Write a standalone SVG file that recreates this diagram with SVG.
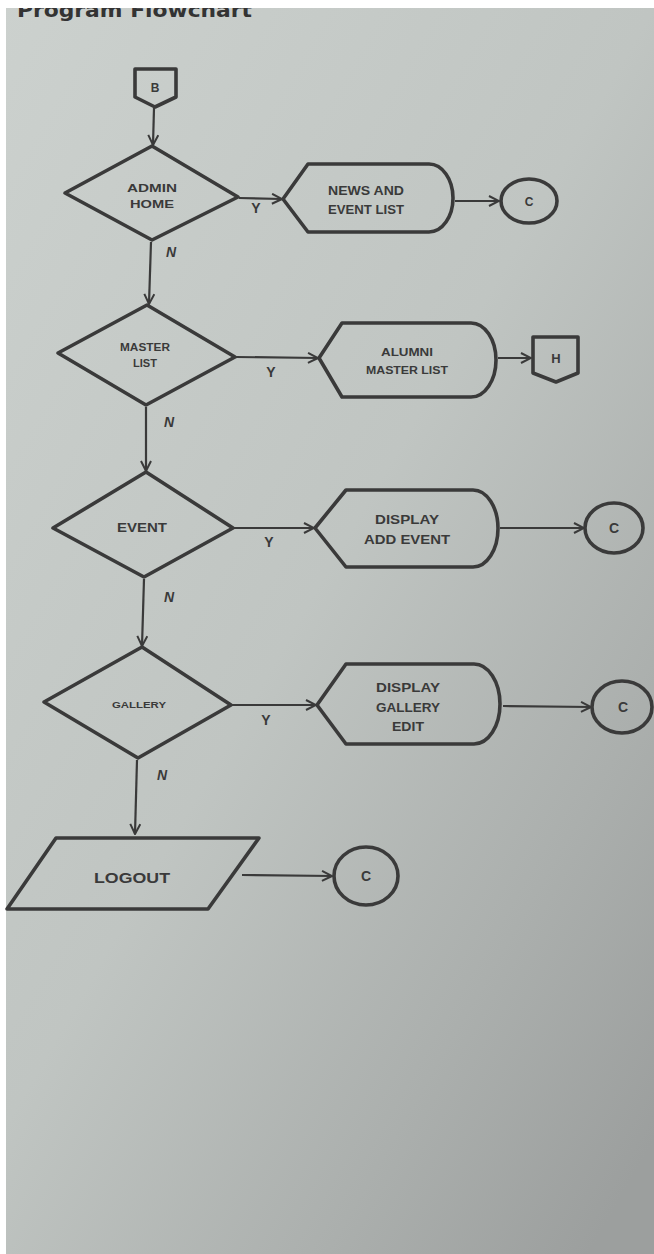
<svg xmlns="http://www.w3.org/2000/svg" width="654" height="1254" viewBox="0 0 654 1254">
<defs>
<linearGradient id="bg" x1="0" y1="0" x2="0.9" y2="1">
<stop offset="0" stop-color="#ccd1ce"/>
<stop offset="0.5" stop-color="#c0c5c2"/>
<stop offset="0.8" stop-color="#abafad"/>
<stop offset="1" stop-color="#9c9f9e"/>
</linearGradient>
<marker id="arr" viewBox="0 0 12 12" refX="11" refY="6" markerWidth="12" markerHeight="12" markerUnits="userSpaceOnUse" orient="auto">
<path d="M1,1 L11,6 L1,11" fill="none" stroke="#3a3a3a" stroke-width="2"/>
</marker>
</defs>
<style>
.sh{fill:none;stroke:#3a3a3a;stroke-width:3.6;stroke-linejoin:round}
.cn{fill:none;stroke:#3a3a3a;stroke-width:2.2;marker-end:url(#arr)}
.t{font-family:"Liberation Sans",Arial,sans-serif;font-weight:bold;fill:#3a3a3a;text-anchor:middle}
.yn{font-family:"Liberation Sans",Arial,sans-serif;font-weight:bold;fill:#3a3a3a;text-anchor:middle;font-size:14px}
</style>
<rect x="0" y="0" width="654" height="1254" fill="url(#bg)"/>
<text x="17" y="17" font-family="'DejaVu Sans',sans-serif" font-weight="bold" font-size="20" fill="#333" textLength="235" lengthAdjust="spacingAndGlyphs">Program Flowchart</text>
<rect x="0" y="0" width="654" height="8" fill="#ffffff"/>
<rect x="0" y="0" width="6" height="1254" fill="#ffffff"/>

<g id="connectors">
<line class="cn" x1="154" y1="108" x2="153" y2="145"/>
<line class="cn" x1="239" y1="198" x2="282" y2="199"/>
<line class="cn" x1="455" y1="201" x2="499" y2="201"/>
<line class="cn" x1="151" y1="242" x2="149" y2="304"/>
<line class="cn" x1="236" y1="357" x2="318" y2="358"/>
<line class="cn" x1="498" y1="358" x2="531" y2="358"/>
<line class="cn" x1="146" y1="407" x2="146" y2="471"/>
<line class="cn" x1="234" y1="528" x2="314" y2="528"/>
<line class="cn" x1="500" y1="528" x2="584" y2="528"/>
<line class="cn" x1="144" y1="579" x2="142" y2="646"/>
<line class="cn" x1="232" y1="705" x2="316" y2="705"/>
<line class="cn" x1="503" y1="706" x2="591" y2="707"/>
<line class="cn" x1="137" y1="760" x2="135" y2="834"/>
<line class="cn" x1="242" y1="875" x2="332" y2="876"/>
</g>

<g id="B">
<path class="sh" d="M135,69 L176,69 L176,97 L155,107 L135,97 Z"/>
<text class="t" x="155" y="92" font-size="12">B</text>
</g>

<g id="adminHome">
<path class="sh" d="M152,146 L238,197 L152,240 L65,193 Z"/>
<text class="t" x="152" y="192" font-size="11" textLength="50" lengthAdjust="spacingAndGlyphs">ADMIN</text>
<text class="t" x="152" y="208" font-size="11" textLength="44" lengthAdjust="spacingAndGlyphs">HOME</text>
</g>

<g id="newsEvent">
<path class="sh" d="M283,199 L308,164 L429,164 A24,34 0 0 1 429,232 L308,232 Z"/>
<text class="t" x="366" y="195" font-size="12" textLength="76" lengthAdjust="spacingAndGlyphs">NEWS AND</text>
<text class="t" x="366" y="214" font-size="12" textLength="76" lengthAdjust="spacingAndGlyphs">EVENT LIST</text>
</g>

<g id="c1">
<ellipse class="sh" cx="529" cy="201" rx="28" ry="22"/>
<text class="t" x="529" y="206" font-size="12">C</text>
</g>

<g id="masterList">
<path class="sh" d="M147,305 L235,357 L146,405 L58,353 Z"/>
<text class="t" x="145" y="351" font-size="10" textLength="50" lengthAdjust="spacingAndGlyphs">MASTER</text>
<text class="t" x="145" y="367" font-size="10" textLength="24" lengthAdjust="spacingAndGlyphs">LIST</text>
</g>

<g id="alumniMaster">
<path class="sh" d="M319,358 L342,323 L471,323 A25,37 0 0 1 471,397 L342,397 Z"/>
<text class="t" x="407" y="356" font-size="10.5" textLength="52" lengthAdjust="spacingAndGlyphs">ALUMNI</text>
<text class="t" x="407" y="374" font-size="10.5" textLength="82" lengthAdjust="spacingAndGlyphs">MASTER  LIST</text>
</g>

<g id="H">
<path class="sh" d="M533,337 L578,337 L578,373 L556,382 L533,373 Z"/>
<text class="t" x="556" y="363" font-size="13">H</text>
</g>

<g id="event">
<path class="sh" d="M146,472 L233,528 L144,577 L53,528 Z"/>
<text class="t" x="142" y="532" font-size="12" textLength="50" lengthAdjust="spacingAndGlyphs">EVENT</text>
</g>

<g id="addEvent">
<path class="sh" d="M315,528 L346,490 L473,490 A25,38.5 0 0 1 473,567 L346,567 Z"/>
<text class="t" x="407" y="524" font-size="12" textLength="64" lengthAdjust="spacingAndGlyphs">DISPLAY</text>
<text class="t" x="407" y="544" font-size="12" textLength="86" lengthAdjust="spacingAndGlyphs">ADD EVENT</text>
</g>

<g id="c3">
<ellipse class="sh" cx="614" cy="528" rx="29" ry="25"/>
<text class="t" x="614" y="533" font-size="14">C</text>
</g>

<g id="gallery">
<path class="sh" d="M142,647 L231,705 L138,758 L44,702 Z"/>
<text class="t" x="139" y="708" font-size="9" textLength="54" lengthAdjust="spacingAndGlyphs">GALLERY</text>
</g>

<g id="galleryEdit">
<path class="sh" d="M317,705 L346,664 L474,664 A26,40 0 0 1 474,744 L346,744 Z"/>
<text class="t" x="408" y="692" font-size="12" textLength="64" lengthAdjust="spacingAndGlyphs">DISPLAY</text>
<text class="t" x="408" y="712" font-size="12" textLength="64" lengthAdjust="spacingAndGlyphs">GALLERY</text>
<text class="t" x="408" y="731" font-size="12" textLength="32" lengthAdjust="spacingAndGlyphs">EDIT</text>
</g>

<g id="c4">
<ellipse class="sh" cx="622" cy="707" rx="30" ry="26"/>
<text class="t" x="623" y="712" font-size="14">C</text>
</g>

<g id="logout">
<path class="sh" d="M56,838 L259,838 L208,909 L7,909 Z"/>
<text class="t" x="132" y="883" font-size="14" textLength="76" lengthAdjust="spacingAndGlyphs">LOGOUT</text>
</g>

<g id="c5">
<ellipse class="sh" cx="366" cy="876" rx="32" ry="29"/>
<text class="t" x="366" y="881" font-size="14">C</text>
</g>

<g id="labels">
<text class="yn" x="256" y="213">Y</text>
<text class="yn" x="171" y="257" font-style="italic" font-size="13">N</text>
<text class="yn" x="271" y="377">Y</text>
<text class="yn" x="169" y="427" font-style="italic" font-size="13">N</text>
<text class="yn" x="269" y="547">Y</text>
<text class="yn" x="169" y="602" font-style="italic" font-size="13">N</text>
<text class="yn" x="266" y="725">Y</text>
<text class="yn" x="162" y="780" font-style="italic" font-size="13">N</text>
</g>
</svg>
